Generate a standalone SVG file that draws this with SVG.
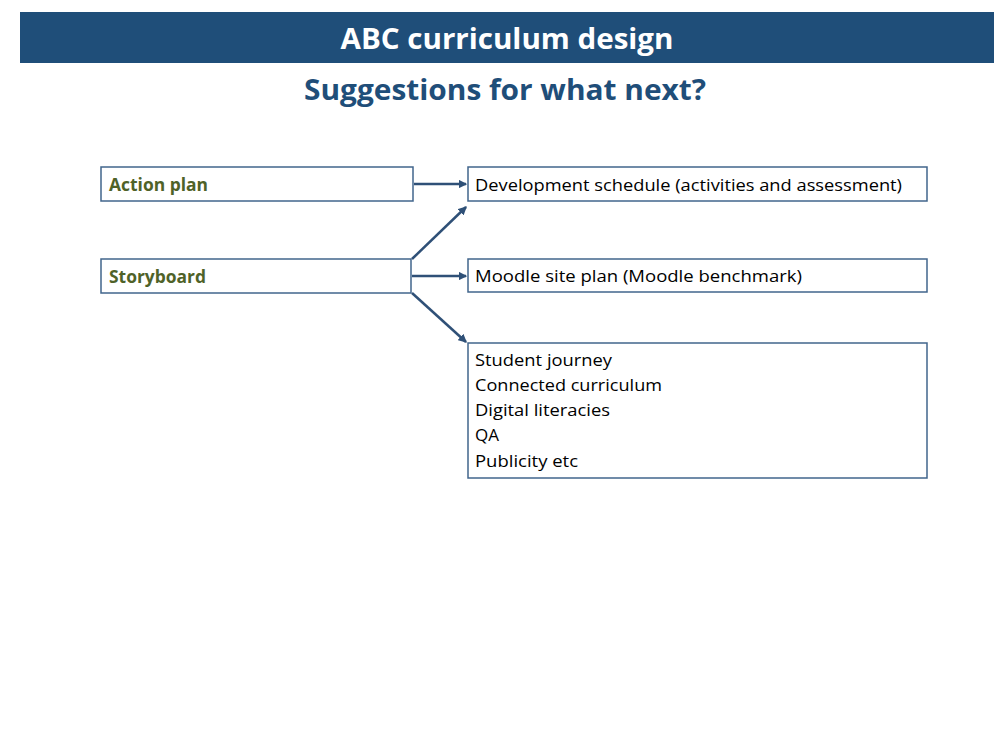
<svg xmlns="http://www.w3.org/2000/svg" width="1008" height="756" viewBox="0 0 1008 756">
<style>
.box{fill:#fff;stroke:#41658C;stroke-width:1.5}
.lbl{font-family:"Open Sans","Liberation Sans",sans-serif;font-size:17px;fill:#000}
.grn{font-family:"Open Sans","Liberation Sans",sans-serif;font-size:17px;font-weight:bold;fill:#4F6228}
.con{stroke:#2F5077;stroke-width:2.5;fill:none;marker-end:url(#ah)}
.ttl{font-family:"Open Sans","Liberation Sans",sans-serif;font-weight:bold;font-size:28px;text-anchor:middle}
</style>
<defs>
<marker id="ah" markerWidth="3.5" markerHeight="3.5" refX="3" refY="1.75" orient="auto" markerUnits="strokeWidth">
<path d="M0,0 L3.5,1.75 L0,3.5 Z" fill="#2F5077"/>
</marker>
</defs>
<rect width="1008" height="756" fill="#fff"/>
<g id="header">
<rect x="20" y="12" width="974" height="51" fill="#1F4E79"/>
<text class="ttl" x="507" y="49" fill="#fff" textLength="333" lengthAdjust="spacingAndGlyphs">ABC curriculum design</text>
</g>
<text class="ttl" x="505" y="100" fill="#1F4E79" textLength="402" lengthAdjust="spacingAndGlyphs">Suggestions for what next?</text>
<g id="action-plan">
<rect class="box" x="101" y="167" width="312" height="34"/>
<text class="grn" x="109" y="191" textLength="99" lengthAdjust="spacingAndGlyphs">Action plan</text>
</g>
<g id="storyboard">
<rect class="box" x="101" y="259" width="310" height="34"/>
<text class="grn" x="109" y="283" textLength="97" lengthAdjust="spacingAndGlyphs">Storyboard</text>
</g>
<g id="dev-schedule">
<rect class="box" x="468" y="167" width="459" height="34"/>
<text class="lbl" x="475" y="191" textLength="427" lengthAdjust="spacingAndGlyphs">Development schedule (activities and assessment)</text>
</g>
<g id="moodle-plan">
<rect class="box" x="468" y="259" width="459" height="33"/>
<text class="lbl" x="475" y="282" textLength="327" lengthAdjust="spacingAndGlyphs">Moodle site plan (Moodle benchmark)</text>
</g>
<g id="list">
<rect class="box" x="468" y="343" width="459" height="135"/>
<text class="lbl" x="475" y="366" textLength="137" lengthAdjust="spacingAndGlyphs">Student journey</text>
<text class="lbl" x="475" y="391" textLength="187" lengthAdjust="spacingAndGlyphs">Connected curriculum</text>
<text class="lbl" x="475" y="416" textLength="135" lengthAdjust="spacingAndGlyphs">Digital literacies</text>
<text class="lbl" x="475" y="441">QA</text>
<text class="lbl" x="475" y="467" textLength="103" lengthAdjust="spacingAndGlyphs">Publicity etc</text>
</g>
<g id="connectors">
<line class="con" x1="414" y1="184" x2="466" y2="184"/>
<line class="con" x1="412" y1="276" x2="466" y2="276"/>
<line class="con" x1="412" y1="259" x2="466" y2="207"/>
<line class="con" x1="412" y1="293" x2="466" y2="342"/>
</g>
</svg>
